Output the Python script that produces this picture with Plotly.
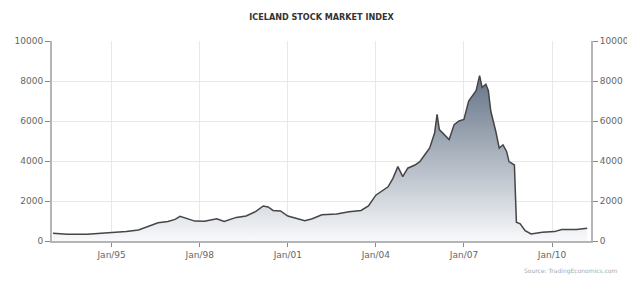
import plotly.graph_objects as go

dates = ["1993-01-01","1993-07-01","1994-03-01","1994-09-01","1995-01-01","1995-07-01","1995-12-01",
         "1996-04-01","1996-08-01","1996-12-01","1997-03-01","1997-05-01","1997-07-01","1997-11-01",
         "1998-03-01","1998-08-01","1998-11-01","1999-04-01","1999-08-01","1999-12-01","2000-03-01",
         "2000-05-01","2000-07-01","2000-10-01","2001-01-01","2001-04-01","2001-08-01","2001-11-01",
         "2002-03-01","2002-09-01","2003-02-01","2003-07-01","2003-10-01","2004-01-01","2004-04-01",
         "2004-06-01","2004-08-01","2004-10-01","2004-12-01","2005-02-01","2005-05-01","2005-07-01",
         "2005-09-01","2005-11-01","2006-01-01","2006-02-01","2006-03-01","2006-05-01","2006-07-01",
         "2006-09-01","2006-11-01","2007-01-01","2007-03-01","2007-06-01","2007-07-15","2007-08-15",
         "2007-10-01","2007-11-01","2007-12-01","2008-02-01","2008-03-15","2008-05-01","2008-06-15",
         "2008-07-15","2008-09-20","2008-10-15","2008-12-01","2009-02-01","2009-04-15","2009-09-01",
         "2010-02-01","2010-05-01","2010-11-01","2011-03-15"]
values = [390,340,340,390,440,470,555,
          740,910,975,1080,1230,1150,995,
          990,1110,975,1180,1250,1480,1750,
          1700,1530,1500,1250,1150,1010,1110,
          1310,1350,1465,1530,1750,2290,2540,
          2710,3130,3720,3220,3640,3800,3970,
          4310,4650,5400,6330,5570,5320,5070,
          5820,6000,6080,7000,7510,8270,7680,
          7840,7510,6500,5490,4650,4810,4480,
          3970,3800,940,860,520,350,440,
          470,570,570,640]

tick_dates = ["1995-01-01","1998-01-01","2001-01-01","2004-01-01","2007-01-01","2010-01-01"]
tick_labels = ["Jan/95","Jan/98","Jan/01","Jan/04","Jan/07","Jan/10"]
y_ticks = [0, 2000, 4000, 6000, 8000, 10000]
y_labels = ["0", "2000", "4000", "6000", "8000", "10000"]

fig = go.Figure()
fig.add_trace(go.Scatter(
    x=dates, y=values, mode="lines", fill="tozeroy",
    line=dict(color="#454545", width=1.5),
    fillgradient=dict(type="vertical", start=0, stop=8300,
                      colorscale=[[0, "rgb(248,249,251)"], [1, "rgb(100,115,135)"]]),
    showlegend=False, hoverinfo="skip"))
fig.add_trace(go.Scatter(x=dates, y=values, yaxis="y2", mode="lines",
                         line=dict(width=0), opacity=0, showlegend=False, hoverinfo="skip"))

tickfont = dict(family="DejaVu Sans", size=9, color="#666")
axis_common = dict(showline=True, linecolor="#b5b5b5", linewidth=2, ticks="outside",
                   tickcolor="#888", tickfont=tickfont, zeroline=False, automargin=False)
fig.update_layout(
    template="none",
    width=627, height=280,
    margin=dict(l=44, r=44, t=33, b=47, pad=0),
    paper_bgcolor="white", plot_bgcolor="white",
    title=dict(text="<b>ICELAND STOCK MARKET INDEX</b>", x=0.5, xanchor="center",
               yref="container", y=0.968, yanchor="middle",
               font=dict(family="DejaVu Sans Condensed", size=9, color="#333")),
    xaxis=dict(type="date", range=["1992-12-20", "2011-05-01"], tickvals=tick_dates, ticktext=tick_labels,
               showgrid=True, gridcolor="#e8e8e8", gridwidth=1, ticklen=4, **axis_common),
    yaxis=dict(range=[0, 10000], tickvals=y_ticks, ticktext=y_labels, showgrid=True,
               gridcolor="#e8e8e8", gridwidth=1, ticklen=5, **axis_common),
    yaxis2=dict(range=[0, 10000], tickvals=y_ticks, ticktext=y_labels, overlaying="y", side="right",
                showgrid=False, ticklen=5, **axis_common),
    annotations=[dict(text="Source: TradingEconomics.com", xref="paper", yref="paper",
                      x=1.054, y=-0.15, xanchor="right", yanchor="middle", showarrow=False,
                      font=dict(family="DejaVu Sans", size=6, color="#aaa"))],
)
fig.write_html("out.html")
